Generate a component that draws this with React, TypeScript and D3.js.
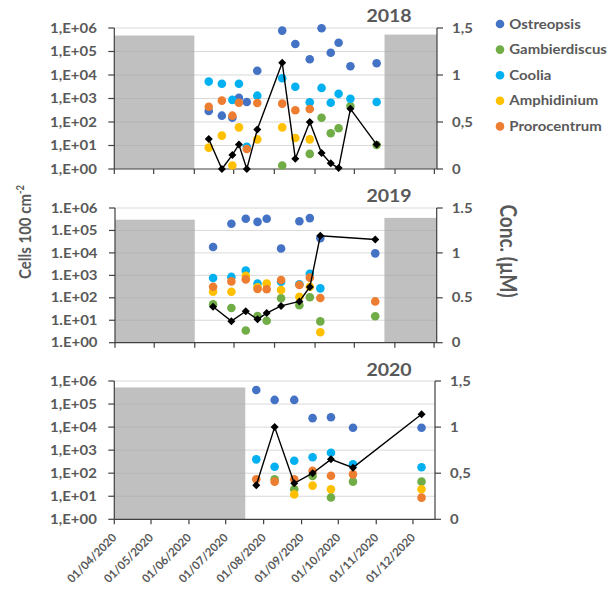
import React from "react";
import * as d3 from "d3";

// ---------- DATA ----------
const SPECIES = ["Ostreopsis", "Gambierdiscus", "Coolia", "Amphidinium", "Prorocentrum"];

// 2018
const dates2018 = ["2018-06-12", "2018-06-22", "2018-06-30", "2018-07-05", "2018-07-11", "2018-07-19", "2018-08-07", "2018-08-17", "2018-08-28", "2018-09-06", "2018-09-13", "2018-09-19", "2018-09-28", "2018-10-18"];
const ostreopsis2018 = [295, 186, 151, 1070, 708, 15100, 776000, 209000, 46800, 977000, 89100, 234000, 23400, 31600];
const gambierdiscus2018 = [null, null, null, null, null, null, 1.4, null, 4.4, 151, 33, 54, 479, 10.5];
const coolia2018 = [5250, 4270, 871, 4270, 8.9, 1320, 7240, 3160, 692, 2820, 661, 1580, 977, 708];
const amphidinium2018 = [8.1, 26.3, 1.4, 58.9, null, 18.2, 58.9, 20.9, 18.2, null, null, null, null, null];
const prorocentrum2018 = [447, 813, 186, 661, 7.1, 646, 603, 316, 355, null, null, null, null, null];
const conc2018 = [0.32, 0.0, 0.15, 0.26, 0.0, 0.42, 1.13, 0.11, 0.5, 0.17, 0.06, 0.01, 0.64, 0.26];
const gaps2018 = [["2018-04-01", "2018-06-01", 1.42], ["2018-10-24", "2018-12-03", 1.43]];

// 2019
const dates2019 = ["2019-06-15", "2019-06-29", "2019-07-10", "2019-07-19", "2019-07-26", "2019-08-06", "2019-08-20", "2019-08-28", "2019-09-05", "2019-10-17"];
const ostreopsis2019 = [18200, 200000, 331000, 240000, 331000, 15800, 257000, 355000, 45700, 9550];
const gambierdiscus2019 = [52, 35, 3.5, 15.5, 9.5, 95, 47, 105, 8.9, 15.1];
const coolia2019 = [759, 851, 1620, 427, null, 525, 398, 1170, 263, null];
const amphidinium2019 = [186, 186, 955, 295, 427, 224, 112, 309, 2.9, null];
const prorocentrum2019 = [309, 537, 661, 245, 240, 617, 372, 794, 98, 69];
const conc2019 = [0.4, 0.24, 0.35, 0.26, 0.33, 0.41, 0.46, 0.62, 1.19, 1.15];
const gaps2019 = [["2019-04-01", "2019-06-01", 1.37], ["2019-10-24", "2019-12-03", 1.39]];

// 2020
const dates2020 = ["2020-07-26", "2020-08-10", "2020-08-26", "2020-09-10", "2020-09-25", "2020-10-13", "2020-12-08"];
const ostreopsis2020 = [407000, 151000, 151000, 24500, 26900, 9330, 9330];
const gambierdiscus2020 = [null, 55, 20, 76, 8.9, 43, 43];
const coolia2020 = [398, 191, 347, 490, 776, 245, 182];
const amphidinium2020 = [null, null, 12, 29, 20, null, 20];
const prorocentrum2020 = [55, 43, 55, 126, 78, 89, 8.7];
const conc2020 = [0.37, 1.0, 0.39, 0.5, 0.65, 0.56, 1.14];
const gaps2020 = [["2020-04-01", "2020-07-17", 1.43]];

const LOG_TICKS = [1, 10, 100, 1000, 10000, 100000, 1000000];
const CONC_TICKS = [0, 0.5, 1, 1.5];

// ---------- STYLE ----------
const COLORS = ["#4472C4", "#70AD47", "#00B0F0", "#FFC000", "#ED7D31"];
const FONT = "Lato, 'Open Sans', sans-serif";
const TXT = "#595959";
const SX = 1.15;

const parse = d3.timeParse("%Y-%m-%d");

const PANELS = [
  {
    year: "2018", sep: ",", top: 28, bottom: 169, left: 114.3, right: 437,
    start: "2018-04-01", end: "2018-12-03", titleY: 21.7, showX: false,
    dates: dates2018, series: [ostreopsis2018, gambierdiscus2018, coolia2018, amphidinium2018, prorocentrum2018],
    conc: conc2018, gaps: gaps2018,
  },
  {
    year: "2019", sep: ".", top: 208, bottom: 342.7, left: 115, right: 436.7,
    start: "2019-04-01", end: "2019-12-03", titleY: 201.7, showX: false,
    dates: dates2019, series: [ostreopsis2019, gambierdiscus2019, coolia2019, amphidinium2019, prorocentrum2019],
    conc: conc2019, gaps: gaps2019,
  },
  {
    year: "2020", sep: ",", top: 381, bottom: 519.3, left: 114.3, right: 435,
    start: "2020-04-01", end: "2020-12-19", titleY: 376, showX: true,
    dates: dates2020, series: [ostreopsis2020, gambierdiscus2020, coolia2020, amphidinium2020, prorocentrum2020],
    conc: conc2020, gaps: gaps2020,
  },
];

function T(props: any) {
  const { x, y, sx = SX, rotate = 0, anchor = "start", size = 13, weight = 700, fill = TXT, children } = props;
  return (
    <text
      transform={`translate(${x},${y}) scale(${sx},1)${rotate ? ` rotate(${rotate})` : ""}`}
      textAnchor={anchor}
      fontSize={size}
      fontWeight={weight}
      fill={fill}
      fontFamily={FONT}
    >
      {children}
    </text>
  );
}

function Panel({ p }: { p: any }) {
  const x = d3.scaleTime().domain([parse(p.start)!, parse(p.end)!]).range([p.left, p.right]);
  const y = d3.scaleLog().domain([1, 1e6]).range([p.bottom, p.top]);
  const yc = d3.scaleLinear().domain([0, 1.5]).range([p.bottom, p.top]);
  const dts = p.dates.map((d: string) => parse(d)!);
  const monthTicks = x.ticks(d3.timeMonth.every(1)!);
  const fmt = d3.timeFormat("%d/%m/%Y");
  const line = d3
    .line<number>()
    .x((_, i) => x(dts[i]))
    .y((c) => yc(c));
  const dr = 4;
  const diamond = `M0,${-dr}L${dr},0L0,${dr}L${-dr},0Z`;
  const axisColor = "#404040";

  return (
    <g>
      {/* gridlines */}
      {LOG_TICKS.slice(1).map((t) => (
        <line key={t} x1={p.left} x2={p.right} y1={y(t)} y2={y(t)} stroke="#d9d9d9" strokeWidth={1} />
      ))}
      {/* no-sampling periods */}
      {p.gaps.map((g: any, i: number) => {
        const x0 = x(parse(g[0])!);
        const x1 = x(parse(g[1])!);
        return (
          <rect key={i} x={x0} y={yc(g[2])} width={x1 - x0} height={p.bottom - yc(g[2])} fill="#a5a5a5" fillOpacity={0.7} />
        );
      })}
      {/* left axis */}
      <line x1={p.left} x2={p.left} y1={p.top} y2={p.bottom} stroke={axisColor} strokeWidth={1.2} />
      {LOG_TICKS.map((t, i) => (
        <g key={t}>
          <line x1={p.left - 6} x2={p.left} y1={y(t)} y2={y(t)} stroke={axisColor} strokeWidth={1.2} />
          <T x={p.left - 17.5} y={y(t) + 4.6} anchor="end">{`1${p.sep}E+0${i}`}</T>
        </g>
      ))}
      {/* right axis */}
      <line x1={p.right} x2={p.right} y1={p.top} y2={p.bottom} stroke={axisColor} strokeWidth={1.2} />
      {CONC_TICKS.map((t) => (
        <g key={t}>
          <line x1={p.right} x2={p.right + 6} y1={yc(t)} y2={yc(t)} stroke={axisColor} strokeWidth={1.2} />
          <T x={p.right + 15} y={yc(t) + 4.6}>{String(t).replace(".", p.sep)}</T>
        </g>
      ))}
      {/* bottom axis */}
      <line x1={p.left} x2={p.right} y1={p.bottom} y2={p.bottom} stroke={axisColor} strokeWidth={1.2} />
      {monthTicks.map((d, i) => (
        <g key={i}>
          <line x1={x(d)} x2={x(d)} y1={p.bottom} y2={p.bottom + 5} stroke={axisColor} strokeWidth={1.2} />
          {p.showX && (
            <T x={x(d) + 3} y={p.bottom + 19} sx={1} rotate={-45} anchor="end" size={11.5}>
              {fmt(d)}
            </T>
          )}
        </g>
      ))}
      {/* species points */}
      {p.series.map((vals: (number | null)[], si: number) => (
        <g key={si}>
          {vals.map((v, i) =>
            v == null ? null : <circle key={i} cx={x(dts[i])} cy={y(Math.max(v, 1))} r={4.3} fill={COLORS[si]} />
          )}
        </g>
      ))}
      {/* concentration line */}
      <path d={line(p.conc) || ""} fill="none" stroke="#000" strokeWidth={1.4} />
      {p.conc.map((c: number, i: number) => (
        <path key={i} d={diamond} transform={`translate(${x(dts[i])},${yc(c)})`} fill="#000" />
      ))}
      {/* title */}
      <T x={411.7} y={p.titleY} anchor="end" size={17}>{p.year}</T>
    </g>
  );
}

export default function App() {
  return (
    <svg
      width={616}
      height={589}
      viewBox="0 0 616 589"
      style={{ position: "absolute", left: 0, top: 0, display: "block", background: "#fff" }}
    >
      <rect width={616} height={589} fill="#fff" />
      {PANELS.map((p) => (
        <Panel key={p.year} p={p} />
      ))}
      {/* legend */}
      {SPECIES.map((s, i) => (
        <g key={s}>
          <circle cx={500} cy={24 + i * 25.6} r={4.3} fill={COLORS[i]} />
          <T x={509.3} y={24 + i * 25.6 + 4.6} size={13}>{s}</T>
        </g>
      ))}
      {/* axis titles */}
      <text
        transform={`translate(31,232) scale(${SX},1) rotate(-90)`}
        textAnchor="middle"
        fontSize={15}
        fontWeight={700}
        fill={TXT}
        fontFamily={FONT}
      >
        Cells 100 cm
        <tspan fontSize={9.5} dy={-6}>-2</tspan>
      </text>
      <text
        transform={`translate(499.5,251) scale(${SX},1) rotate(90)`}
        textAnchor="middle"
        fontSize={19}
        fontWeight={700}
        fill={TXT}
        fontFamily={FONT}
      >
        Conc. (µM)
      </text>
    </svg>
  );
}
